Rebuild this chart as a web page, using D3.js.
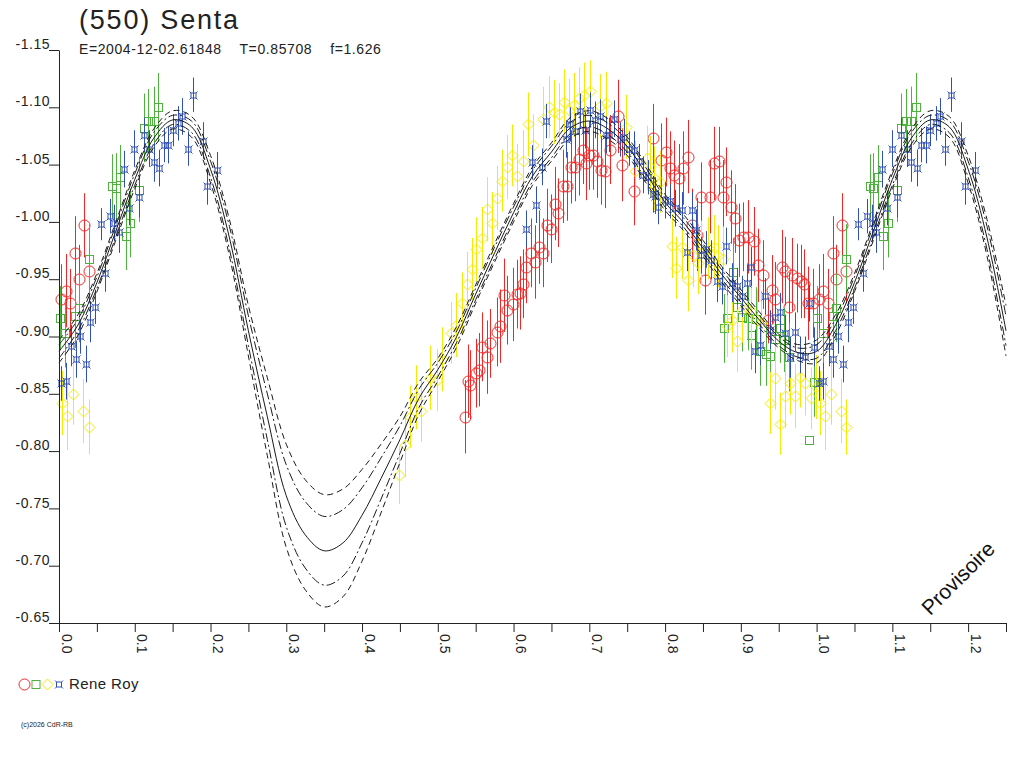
<!DOCTYPE html>
<html>
<head>
<meta charset="utf-8">
<script src="https://cdn.jsdelivr.net/npm/d3@7"></script>
<style>
  body { margin: 0; background: #fff; }
  svg { display: block; font-family: "Liberation Sans", Arial, sans-serif; }
</style>
</head>
<body>
<div id="chart"></div>
<script>
// Title texts
let titleText = '(550) Senta'
let subTitle = 'E=2004-12-02.61848    T=0.85708    f=1.626'
let observer = 'Rene Roy'
let copyright = '(c)2026 CdR-RB'
let stamp = 'Provisoire'

// Fitted curve (phase, magnitude) and envelope half widths
let curvePhase = [0, 0.025, 0.05, 0.075, 0.1, 0.125, 0.15, 0.175, 0.2, 0.225, 0.25, 0.275, 0.3, 0.325, 0.35, 0.375, 0.4, 0.425, 0.45, 0.475,
  0.5, 0.525, 0.55, 0.575, 0.6, 0.625, 0.65, 0.675, 0.7, 0.725, 0.75, 0.775, 0.8, 0.825, 0.85, 0.875, 0.9, 0.925, 0.95, 0.975, 1.0]
let curveMag = [-0.887, -0.910, -0.947, -0.992, -1.037, -1.073, -1.089, -1.083, -1.046, -0.986, -0.905, -0.830, -0.761, -0.727, -0.713, -0.720, -0.744, -0.776, -0.810, -0.846,
  -0.871, -0.900, -0.937, -0.973, -1.008, -1.040, -1.061, -1.082, -1.088, -1.081, -1.066, -1.042, -1.017, -0.999, -0.977, -0.954, -0.934, -0.914, -0.896, -0.886, -0.887]
let bandOuter = [0.010, 0.009, 0.008, 0.008, 0.008, 0.008, 0.008, 0.009, 0.012, 0.016, 0.022, 0.034, 0.045, 0.048, 0.049, 0.047, 0.040, 0.030, 0.020, 0.014,
  0.010, 0.009, 0.008, 0.008, 0.008, 0.008, 0.008, 0.009, 0.009, 0.009, 0.008, 0.008, 0.007, 0.007, 0.007, 0.007, 0.007, 0.007, 0.006, 0.007, 0.010]
let bandInner = [0.006, 0.005, 0.005, 0.005, 0.005, 0.005, 0.004, 0.005, 0.007, 0.010, 0.013, 0.020, 0.027, 0.029, 0.030, 0.029, 0.024, 0.018, 0.012, 0.008,
  0.006, 0.005, 0.005, 0.005, 0.005, 0.005, 0.005, 0.005, 0.005, 0.005, 0.005, 0.005, 0.004, 0.004, 0.004, 0.004, 0.004, 0.004, 0.004, 0.004, 0.006]

// Observations [phase, magnitude, error]
let redPoints = [
  [0.003, -0.933, 0.030], [0.009, -0.940, 0.032], [0.015, -0.929, 0.030], [0.021, -0.973, 0.032], [0.026, -0.950, 0.030], [0.033, -0.997, 0.028], [0.039, -0.957, 0.028],
  [0.536, -0.830, 0.032], [0.540, -0.861, 0.032], [0.543, -0.858, 0.030], [0.551, -0.868, 0.030], [0.555, -0.871, 0.032], [0.559, -0.891, 0.030], [0.565, -0.882, 0.032],
  [0.569, -0.894, 0.030], [0.578, -0.904, 0.030], [0.582, -0.909, 0.032], [0.588, -0.936, 0.032], [0.592, -0.923, 0.030], [0.599, -0.928, 0.032], [0.604, -0.937, 0.030],
  [0.609, -0.938, 0.032], [0.613, -0.946, 0.030], [0.617, -0.961, 0.032], [0.623, -0.973, 0.030], [0.628, -0.965, 0.032], [0.634, -0.978, 0.032], [0.639, -0.973, 0.030],
  [0.644, -0.997, 0.032], [0.650, -0.994, 0.030], [0.655, -1.016, 0.032], [0.659, -1.008, 0.030], [0.665, -1.031, 0.032], [0.670, -1.031, 0.030], [0.676, -1.048, 0.032],
  [0.681, -1.048, 0.030], [0.687, -1.055, 0.032], [0.692, -1.063, 0.030], [0.696, -1.051, 0.032], [0.699, -1.058, 0.030], [0.705, -1.058, 0.030], [0.710, -1.053, 0.032],
  [0.715, -1.045, 0.030], [0.721, -1.044, 0.032], [0.727, -1.063, 0.030], [0.738, -1.092, 0.032], [0.743, -1.050, 0.032], [0.759, -1.027, 0.030], [0.784, -1.073, 0.030],
  [0.794, -1.054, 0.032], [0.801, -1.061, 0.030], [0.807, -1.047, 0.032], [0.812, -1.041, 0.030], [0.818, -1.038, 0.030], [0.823, -1.047, 0.032], [0.830, -1.057, 0.032],
  [0.835, -0.997, 0.032], [0.842, -0.989, 0.032], [0.847, -1.022, 0.030], [0.853, -0.949, 0.030], [0.859, -1.022, 0.032], [0.865, -1.051, 0.032], [0.871, -1.053, 0.030],
  [0.876, -1.022, 0.032], [0.881, -1.035, 0.030], [0.887, -1.013, 0.032], [0.892, -1.003, 0.030], [0.898, -0.984, 0.032], [0.903, -0.987, 0.030], [0.909, -0.987, 0.032],
  [0.917, -0.983, 0.030], [0.923, -0.962, 0.032], [0.929, -0.954, 0.030], [0.936, -0.914, 0.020], [0.941, -0.941, 0.030], [0.945, -0.933, 0.032], [0.954, -0.961, 0.032],
  [0.958, -0.957, 0.030], [0.964, -0.926, 0.030], [0.968, -0.954, 0.032], [0.974, -0.951, 0.030], [0.979, -0.948, 0.032], [0.984, -0.946, 0.030], [0.989, -0.929, 0.032],
  [0.995, -0.929, 0.030]
]
let greenPoints = [
  [0.001, -0.916, 0.028], [0.008, -0.903, 0.030], [0.021, -0.918, 0.028], [0.026, -0.925, 0.030], [0.039, -0.968, 0.030], [0.070, -1.031, 0.028], [0.075, -1.030, 0.030],
  [0.081, -1.039, 0.028], [0.088, -0.988, 0.030], [0.094, -0.999, 0.030], [0.106, -1.028, 0.028], [0.112, -1.082, 0.030], [0.118, -1.088, 0.028], [0.125, -1.088, 0.030],
  [0.131, -1.100, 0.030],
  [0.878, -0.907, 0.030], [0.882, -0.916, 0.028], [0.889, -0.956, 0.030], [0.895, -0.926, 0.028], [0.901, -0.917, 0.030], [0.909, -0.916, 0.028], [0.914, -0.901, 0.030],
  [0.920, -0.915, 0.028], [0.925, -0.887, 0.030], [0.933, -0.885, 0.028], [0.939, -0.883, 0.030], [0.945, -0.898, 0.028], [0.952, -0.907, 0.030], [0.957, -0.897, 0.028],
  [0.963, -0.882, 0.030], [0.990, -0.810, 0], [0.996, -0.860, 0.030]
]
let yellowPoints = [
  [0.004, -0.842, 0.028], [0.011, -0.831, 0.030], [0.019, -0.850, 0.027], [0.032, -0.835, 0.028], [0.039, -0.821, 0.024],
  [0.449, -0.779, 0.025], [0.457, -0.805, 0.028], [0.463, -0.830, 0.027], [0.471, -0.847, 0.028], [0.478, -0.835, 0.027], [0.490, -0.864, 0.028], [0.499, -0.862, 0.027],
  [0.505, -0.880, 0.028], [0.518, -0.903, 0.027], [0.524, -0.910, 0.028], [0.532, -0.929, 0.027], [0.538, -0.946, 0.028], [0.545, -0.959, 0.027], [0.551, -0.976, 0.028],
  [0.558, -0.986, 0.027], [0.565, -1.011, 0.028], [0.571, -0.999, 0.027], [0.578, -1.021, 0.028], [0.585, -1.036, 0.027], [0.592, -1.048, 0.028], [0.598, -1.058, 0.027],
  [0.605, -1.040, 0.028], [0.612, -1.053, 0.027], [0.619, -1.085, 0.028], [0.625, -1.067, 0.027], [0.639, -1.090, 0.028], [0.647, -1.100, 0.027], [0.654, -1.096, 0.028],
  [0.660, -1.094, 0.027], [0.667, -1.105, 0.028], [0.673, -1.098, 0.027], [0.680, -1.102, 0.028], [0.687, -1.108, 0.027], [0.693, -1.111, 0.028], [0.701, -1.114, 0.027],
  [0.714, -1.101, 0.028], [0.722, -1.104, 0.027], [0.749, -1.083, 0.028], [0.760, -1.044, 0.027], [0.776, -1.056, 0.028], [0.780, -1.048, 0.027], [0.785, -1.038, 0.028],
  [0.793, -1.035, 0.027],
  [0.809, -0.979, 0.028], [0.815, -0.960, 0.027], [0.822, -0.978, 0.028], [0.830, -0.949, 0.027], [0.837, -0.971, 0.028], [0.843, -0.964, 0.027], [0.848, -0.973, 0.028],
  [0.857, -0.977, 0.027], [0.864, -0.978, 0.028], [0.870, -0.970, 0.027], [0.876, -0.968, 0.028], [0.882, -0.909, 0.027], [0.888, -0.914, 0.028], [0.895, -0.896, 0.027],
  [0.901, -0.923, 0.028], [0.908, -0.925, 0.027], [0.914, -0.922, 0.028], [0.921, -0.914, 0.027], [0.926, -0.912, 0.028], [0.939, -0.842, 0.027], [0.945, -0.864, 0.028],
  [0.952, -0.824, 0.027], [0.958, -0.848, 0.028], [0.965, -0.859, 0.027], [0.972, -0.848, 0.028], [0.978, -0.865, 0.027], [0.985, -0.859, 0.028], [0.992, -0.846, 0.027],
  [0.999, -0.856, 0.028]
]
let bluePoints = [
  [0.003, -0.859, 0.015], [0.009, -0.861, 0.016], [0.016, -0.892, 0.018], [0.022, -0.880, 0.016], [0.028, -0.900, 0.015], [0.035, -0.876, 0.016], [0.041, -0.913, 0.018],
  [0.048, -0.926, 0.015], [0.055, -0.998, 0.014], [0.061, -0.955, 0.016], [0.067, -1.005, 0.015], [0.073, -0.999, 0.016], [0.079, -0.991, 0.018], [0.086, -1.046, 0.016],
  [0.093, -1.012, 0.015], [0.099, -1.064, 0.016], [0.106, -1.022, 0.018], [0.112, -1.076, 0.015], [0.119, -1.064, 0.016], [0.125, -1.052, 0.017], [0.132, -1.047, 0.016],
  [0.138, -1.067, 0.015], [0.144, -1.067, 0.016], [0.150, -1.080, 0.014], [0.157, -1.086, 0.015], [0.163, -1.092, 0.016], [0.170, -1.064, 0.015], [0.177, -1.111, 0.015],
  [0.190, -1.071, 0.016], [0.196, -1.031, 0.016], [0.209, -1.045, 0.016],
  [0.617, -0.994, 0.016], [0.624, -1.052, 0.015], [0.630, -1.015, 0.016], [0.637, -1.048, 0.016], [0.643, -1.088, 0.015], [0.669, -1.072, 0.016], [0.675, -1.085, 0.015],
  [0.681, -1.079, 0.016], [0.688, -1.097, 0.015], [0.694, -1.080, 0.016], [0.701, -1.098, 0.015], [0.708, -1.089, 0.016], [0.714, -1.092, 0.015], [0.722, -1.076, 0.016],
  [0.726, -1.076, 0.015], [0.733, -1.090, 0.016], [0.740, -1.072, 0.015], [0.746, -1.074, 0.016], [0.753, -1.064, 0.015], [0.759, -1.063, 0.016], [0.766, -1.053, 0.015],
  [0.771, -1.041, 0.016], [0.777, -1.039, 0.015], [0.784, -1.024, 0.016], [0.787, -1.023, 0.016], [0.790, -1.013, 0.015],
  [0.800, -1.019, 0.016], [0.807, -1.018, 0.015], [0.813, -1.012, 0.016], [0.822, -1.010, 0.016], [0.829, -0.974, 0.017], [0.835, -1.010, 0.016], [0.841, -0.993, 0.018],
  [0.848, -0.971, 0.016], [0.854, -0.976, 0.016], [0.860, -0.967, 0.017], [0.868, -0.948, 0.018], [0.875, -0.944, 0.016], [0.881, -0.979, 0.016], [0.888, -0.947, 0.017],
  [0.895, -0.944, 0.016], [0.901, -0.935, 0.018], [0.908, -0.947, 0.016], [0.914, -0.961, 0.017], [0.919, -0.887, 0.019], [0.925, -0.893, 0.018], [0.932, -0.935, 0.016],
  [0.939, -0.906, 0.017], [0.945, -0.917, 0.016], [0.952, -0.921, 0.017], [0.958, -0.903, 0.016], [0.965, -0.882, 0.018], [0.972, -0.904, 0.017], [0.978, -0.884, 0.016],
  [0.985, -0.882, 0.018], [0.990, -0.929, 0.016], [0.997, -0.891, 0.017]
]

// Set bounds
let svgWidth = 1024, svgHeight = 768
let plot = { left: 59, right: 1006, top: 50, bottom: 623 }
let phaseMax = 1.25

let svg = d3.select('#chart')
  .append('svg')
  .attr('width', svgWidth)
  .attr('height', svgHeight)

let x = d3.scaleLinear().domain([0, phaseMax]).range([plot.left, plot.right])
let y = d3.scaleLinear().domain([-1.15, -0.65]).range([plot.top, plot.bottom])

// Symbols
let bluePath = 'M-2.5,-2.5H2.5V2.5H-2.5Z M-4,-4L-2.5,-2.5 M4,-4L2.5,-2.5 M4,4L2.5,2.5 M-4,4L-2.5,2.5'
let series = [
  { data: redPoints, color: '#f52525', shape: 'circle' },
  { data: greenPoints, color: '#4db33d', shape: 'square' },
  { data: yellowPoints, color: '#f5ea00', shape: 'diamond' },
  { data: bluePoints, color: '#3050b4', shape: 'blue' }
]

let drawSymbol = (sel, shape, color) => {
  if (shape === 'circle') sel.append('circle').attr('r', 5.5)
  else if (shape === 'square') sel.append('rect').attr('x', -4).attr('y', -4).attr('width', 8).attr('height', 8)
  else if (shape === 'diamond') sel.append('path').attr('d', 'M0,-5.5L5.5,0L0,5.5L-5.5,0Z')
  else sel.append('path').attr('d', bluePath)
  sel.selectAll('*').attr('fill', 'none').attr('stroke', color).attr('stroke-width', 1)
}

// Repeat the first quarter of phase after 1.0
let wrap = rows => rows.concat(rows.filter(d => d[0] + 1 <= phaseMax).map(d => [d[0] + 1, d[1], d[2]]))
let px = v => Math.round(x(v)) + 0.5
let py = v => Math.round(y(v)) + 0.5

series.forEach(s => {
  let rows = wrap(s.data)
  let g = svg.append('g')
  g.selectAll('line')
    .data(rows.filter(d => d[2] > 0))
    .enter().append('line')
    .attr('x1', d => px(d[0]))
    .attr('x2', d => px(d[0]))
    .attr('y1', d => y(d[1] - d[2]))
    .attr('y2', d => y(d[1] + d[2]))
    .attr('stroke', s.color)
    .attr('stroke-width', 1)
  g.selectAll('g.pt')
    .data(rows)
    .enter().append('g')
    .attr('class', 'pt')
    .attr('transform', d => 'translate(' + px(d[0]) + ',' + py(d[1]) + ')')
    .each(function () { drawSymbol(d3.select(this), s.shape, s.color) })
})

// Curve and envelope lines
let curveRows = curvePhase.map((p, i) => ({ p: p, m: curveMag[i], o: bandOuter[i], n: bandInner[i] }))
curveRows = curveRows.concat(curveRows.filter(d => d.p > 0 && d.p + 1 <= phaseMax).map(d => ({ p: d.p + 1, m: d.m, o: d.o, n: d.n })))

let curves = [
  { off: d => -d.o, dash: '6,4' },
  { off: d => -d.n, dash: '9,3,2,3' },
  { off: d => 0, dash: null },
  { off: d => d.n, dash: '9,3,2,3' },
  { off: d => d.o, dash: '6,4' }
]
curves.forEach(c => {
  let line = d3.line()
    .x(d => x(d.p))
    .y(d => y(d.m + c.off(d)))
    .curve(d3.curveCatmullRom)
  svg.append('path')
    .datum(curveRows)
    .attr('fill', 'none')
    .attr('stroke', '#1a1a1a')
    .attr('stroke-width', 1)
    .attr('stroke-dasharray', c.dash)
    .attr('d', line)
})

// Y axis
let yAxis = svg.append('g')
  .attr('transform', 'translate(' + plot.left + ',0)')
  .call(d3.axisLeft(y)
    .tickValues(d3.range(-1.15, -0.6499, 0.05))
    .tickSize(10)
    .tickSizeOuter(0)
    .tickFormat(d => d3.format('.2f')(d).replace('\u2212', '-')))
yAxis.selectAll('text')
  .attr('x', -9)
  .attr('dy', '-0.1em')
  .style('font-size', '14px')
  .style('letter-spacing', '0.5px')
  .attr('fill', '#222')

// X axis
let xAxis = svg.append('g')
  .attr('transform', 'translate(0,' + plot.bottom + ')')
  .call(d3.axisBottom(x)
    .tickValues(d3.range(0, phaseMax + 0.0001, 0.05))
    .tickSize(9)
    .tickSizeOuter(0)
    .tickFormat((d, i) => i % 2 === 0 ? d3.format('.1f')(d) : ''))
xAxis.selectAll('text')
  .attr('x', 0)
  .attr('y', 0)
  .attr('dy', 0)
  .attr('transform', 'translate(2,11) rotate(90)')
  .attr('text-anchor', 'start')
  .style('font-size', '14px')
  .attr('fill', '#222')

svg.selectAll('.domain, .tick line').attr('stroke', '#222')

// Titles
svg.append('text')
  .attr('x', 79).attr('y', 29)
  .style('font-size', '27px').style('letter-spacing', '1.8px')
  .attr('fill', '#222')
  .text(titleText)
svg.append('text')
  .attr('x', 79).attr('y', 54)
  .style('font-size', '14px').style('letter-spacing', '0.6px')
  .style('white-space', 'pre')
  .attr('fill', '#222')
  .text(subTitle)

// Legend
let legendShapes = ['circle', 'square', 'diamond', 'blue']
legendShapes.forEach((shape, i) => {
  let g = svg.append('g').attr('transform', 'translate(' + (24.5 + i * 11.5) + ',684.5)')
  drawSymbol(g, shape, series[i].color)
})
svg.append('text')
  .attr('x', 69).attr('y', 689)
  .style('font-size', '15px').style('letter-spacing', '0.4px')
  .attr('fill', '#222')
  .text(observer)

svg.append('text')
  .attr('x', 21).attr('y', 727)
  .style('font-size', '7px')
  .attr('fill', '#222')
  .text(copyright)

// Provisional stamp
svg.append('text')
  .attr('transform', 'translate(958,578) rotate(-45)')
  .attr('text-anchor', 'middle')
  .attr('dy', '0.35em')
  .style('font-size', '21px')
  .attr('fill', '#111')
  .text(stamp)
</script>
</body>
</html>
